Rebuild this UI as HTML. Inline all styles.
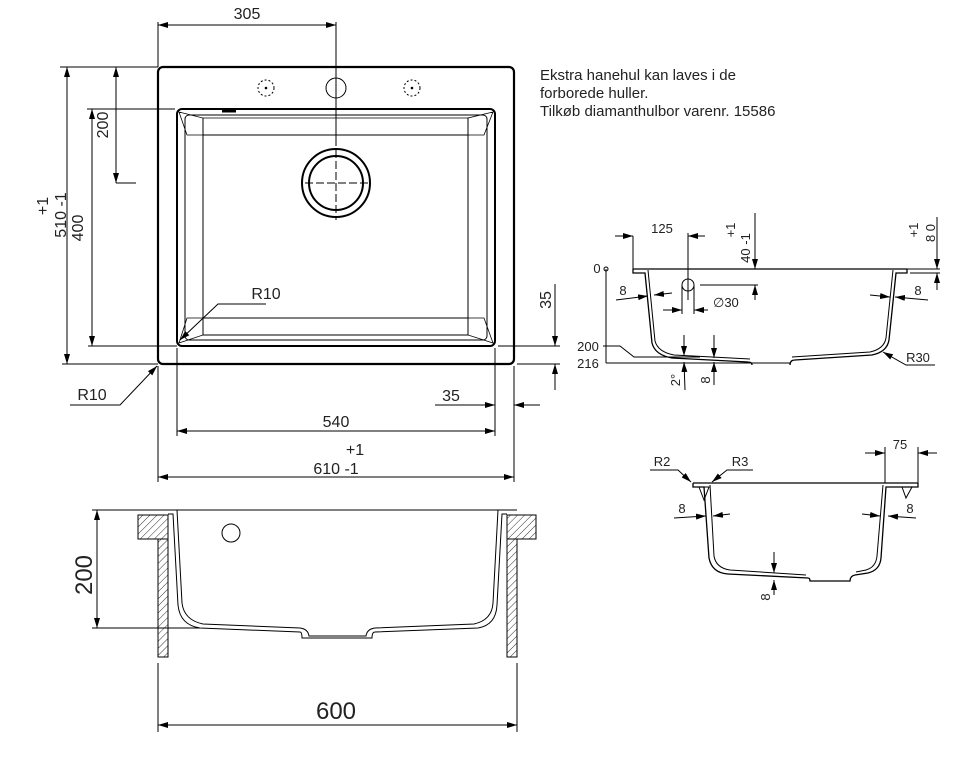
<!DOCTYPE html>
<html><head><meta charset="utf-8"><style>
html,body{margin:0;padding:0;background:#fff;}
svg{display:block;}
text{font-family:"Liberation Sans",sans-serif;fill:#222;}
</style></head><body>
<svg width="970" height="765" viewBox="0 0 970 765" xmlns="http://www.w3.org/2000/svg">
<defs>
<marker id="a" viewBox="0 0 10 6" refX="10" refY="3" markerWidth="10" markerHeight="6" orient="auto-start-reverse" markerUnits="userSpaceOnUse"><path d="M0,0 L10,3 L0,6z" fill="#000"/></marker>
<pattern id="h" width="5" height="5" patternUnits="userSpaceOnUse" patternTransform="rotate(45)"><line x1="0" y1="0" x2="0" y2="5" stroke="#000" stroke-width="0.8"/></pattern>
</defs>
<g fill="none" stroke="#000" stroke-width="1">
<!-- TOP VIEW -->
<rect x="158" y="67" width="356" height="297" rx="5" stroke-width="2.2"/>
<rect x="177" y="109" width="318" height="237" rx="5" stroke-width="2"/>
<rect x="185" y="115" width="302" height="225" rx="4"/>
<line x1="203" y1="118" x2="203" y2="335"/><line x1="468" y1="118" x2="468" y2="335"/>
<line x1="203" y1="135" x2="468" y2="135"/><line x1="203" y1="318" x2="468" y2="318"/>
<line x1="203" y1="335" x2="468" y2="335"/><line x1="203" y1="118" x2="468" y2="118" stroke-width="0.7"/>
<path d="M179,112 L203,118 L203,135 L187,135 Z M493,112 L468,118 L468,135 L484,135 Z M179,343 L203,335 L203,318 L187,318 Z M493,343 L468,335 L468,318 L484,318 Z" stroke-width="0.8"/>
<path d="M222,111 h14" stroke-width="3"/>
<circle cx="266" cy="88" r="8" stroke-dasharray="2 2"/><circle cx="266" cy="88" r="0.8" fill="#000"/>
<circle cx="412" cy="88" r="8" stroke-dasharray="2 2"/><circle cx="412" cy="88" r="0.8" fill="#000"/>
<circle cx="336" cy="88" r="10"/>
<circle cx="336" cy="183" r="34" stroke-width="2"/><circle cx="336" cy="183" r="27" stroke-width="2"/>
<line x1="336" y1="22" x2="336" y2="146"/>
<line x1="336" y1="150" x2="336" y2="220" stroke-dasharray="8 3"/>
<line x1="305" y1="183" x2="368" y2="183" stroke-dasharray="8 3"/>
<line x1="158" y1="22" x2="158" y2="67"/>
<line x1="158" y1="25" x2="336" y2="25" marker-start="url(#a)" marker-end="url(#a)"/>
<line x1="60" y1="67" x2="158" y2="67"/><line x1="62" y1="364" x2="158" y2="364"/>
<line x1="67" y1="67" x2="67" y2="364" marker-start="url(#a)" marker-end="url(#a)"/>
<line x1="87" y1="109" x2="175" y2="109"/><line x1="88" y1="346" x2="177" y2="346"/>
<line x1="92" y1="109" x2="92" y2="346" marker-start="url(#a)" marker-end="url(#a)"/>
<line x1="116" y1="183" x2="136" y2="183"/>
<line x1="116" y1="67" x2="116" y2="183" marker-start="url(#a)" marker-end="url(#a)"/>
<polyline points="266,304 218,304 180,340" marker-end="url(#a)"/>
<polyline points="70,405 120,405 157,366" marker-end="url(#a)"/>
<line x1="498" y1="346" x2="560" y2="346"/><line x1="517" y1="364" x2="560" y2="364"/>
<line x1="555" y1="284" x2="555" y2="346" marker-end="url(#a)"/>
<line x1="555" y1="390" x2="555" y2="364" marker-end="url(#a)"/>
<line x1="495" y1="348" x2="495" y2="436"/><line x1="514" y1="366" x2="514" y2="482"/>
<line x1="435" y1="405" x2="495" y2="405" marker-end="url(#a)"/>
<line x1="540" y1="405" x2="514" y2="405" marker-end="url(#a)"/>
<line x1="177" y1="348" x2="177" y2="436"/>
<line x1="177" y1="431" x2="495" y2="431" marker-start="url(#a)" marker-end="url(#a)"/>
<line x1="158" y1="366" x2="158" y2="482"/>
<line x1="158" y1="477" x2="514" y2="477" marker-start="url(#a)" marker-end="url(#a)"/>

<!-- BOTTOM-LEFT SECTION -->
<line x1="92" y1="510" x2="517" y2="510"/>
<line x1="92" y1="628" x2="200" y2="628"/>
<line x1="97" y1="510" x2="97" y2="628" marker-start="url(#a)" marker-end="url(#a)"/>
<rect x="138" y="515" width="30" height="24" fill="url(#h)"/>
<rect x="158" y="539" width="10" height="118" fill="url(#h)"/>
<rect x="507" y="515" width="29" height="24" fill="url(#h)"/>
<rect x="507" y="539" width="10" height="118" fill="url(#h)"/>
<path d="M168,514 H173 L178,605 Q180,625 200,628 L300,632 Q302,632 302,638 H372 Q372,632 375,632 L478,628 Q496,625 497,605 L502,514 H507"/>
<path d="M177,510 L182,603 Q184,620 203,624 L300,628 Q308,629 309,636 H366 Q367,629 375,628 L474,624 Q492,620 493,603 L498,510"/>
<circle cx="231" cy="533" r="9"/>
<line x1="158" y1="663" x2="158" y2="732"/><line x1="517" y1="663" x2="517" y2="732"/>
<line x1="158" y1="725" x2="517" y2="725" marker-start="url(#a)" marker-end="url(#a)"/>

<!-- RIGHT SECTION 1 -->
<line x1="633" y1="269" x2="907" y2="269" stroke-width="1.3"/>
<path d="M633,269 V273 H645 L652,343 Q655,355 672,358 L748,362 Q752,362 752,365 M790,365 Q790,360 795,360 L872,355 Q887,352 889,340 L896,273 H907 V269" stroke-width="1.3"/>
<path d="M648,270 L655,341 Q658,352 674,355 L750,359 M792,357 L870,352 Q884,349 886,338 L893,270"/>
<line x1="606" y1="269" x2="606" y2="363"/><circle cx="606" cy="269" r="2"/>
<line x1="606" y1="363" x2="790" y2="363"/>
<polyline points="603,346 620,346 634,357 700,357"/>
<line x1="615" y1="236" x2="633" y2="236" marker-end="url(#a)"/>
<line x1="705" y1="236" x2="688" y2="236" marker-end="url(#a)"/>
<line x1="633" y1="236" x2="633" y2="269"/><line x1="688" y1="233" x2="688" y2="300"/>
<circle cx="688" cy="285" r="6"/><line x1="682" y1="285" x2="682" y2="314"/><line x1="694" y1="285" x2="694" y2="314"/>
<line x1="663" y1="310" x2="682" y2="310" marker-end="url(#a)"/>
<line x1="708" y1="310" x2="694" y2="310" marker-end="url(#a)"/>
<line x1="700" y1="285" x2="758" y2="285"/>
<line x1="755" y1="213" x2="755" y2="269" marker-end="url(#a)"/>
<line x1="755" y1="300" x2="755" y2="285" marker-end="url(#a)"/>
<line x1="907" y1="269" x2="940" y2="269"/><line x1="910" y1="273" x2="940" y2="273"/>
<line x1="937" y1="217" x2="937" y2="269" marker-end="url(#a)"/>
<line x1="937" y1="290" x2="937" y2="273" marker-end="url(#a)"/>
<line x1="616" y1="300" x2="648" y2="296" marker-end="url(#a)"/>
<line x1="672" y1="293" x2="654" y2="295" marker-end="url(#a)"/>
<line x1="870" y1="295" x2="890" y2="297" marker-end="url(#a)"/>
<line x1="928" y1="300" x2="895" y2="297" marker-end="url(#a)"/>
<polyline points="935,365 906,365 883,352" marker-end="url(#a)"/>
<line x1="684" y1="335" x2="684" y2="356" marker-end="url(#a)"/>
<line x1="685" y1="390" x2="684" y2="362" marker-end="url(#a)"/>
<line x1="714" y1="335" x2="714" y2="358" marker-end="url(#a)"/>
<line x1="714" y1="385" x2="714" y2="362" marker-end="url(#a)"/>

<!-- RIGHT SECTION 2 -->
<line x1="693" y1="483" x2="918" y2="483" stroke-width="1.3"/>
<path d="M693,483 V487 H704 L709,558 Q712,573 728,574 L808,578 Q810,578 810,581 H850 Q850,576 855,575 L868,573 Q880,570 881,558 L886,487 H918 V483" stroke-width="1.3"/>
<path d="M710,485 L714,556 Q716,568 730,570 L806,575 M856,572 L866,570 Q876,567 877,556 L883,485"/>
<path d="M699,487 L704,500 L709,487 Z M902,487 L906,498 L912,487 Z"/>
<polyline points="650,470 678,470 691,482" marker-end="url(#a)"/>
<polyline points="753,470 727,470 712,482" marker-end="url(#a)"/>
<line x1="885" y1="447" x2="885" y2="483"/><line x1="918" y1="447" x2="918" y2="483"/>
<line x1="865" y1="453" x2="885" y2="453" marker-end="url(#a)"/>
<line x1="937" y1="453" x2="918" y2="453" marker-end="url(#a)"/>
<line x1="674" y1="518" x2="706" y2="516" marker-end="url(#a)"/>
<line x1="730" y1="514" x2="713" y2="516" marker-end="url(#a)"/>
<line x1="862" y1="514" x2="880" y2="516" marker-end="url(#a)"/>
<line x1="916" y1="518" x2="888" y2="516" marker-end="url(#a)"/>
<line x1="774" y1="552" x2="774" y2="573" marker-end="url(#a)"/>
<line x1="774" y1="595" x2="774" y2="580" marker-end="url(#a)"/>
</g>

<g font-size="16">
<text x="247" y="19" text-anchor="middle">305</text>
<text x="266" y="299" text-anchor="middle">R10</text>
<text x="92" y="400" text-anchor="middle">R10</text>
<text x="451" y="401" text-anchor="middle">35</text>
<text x="336" y="427" text-anchor="middle">540</text>
<text x="355" y="455" text-anchor="middle">+1</text>
<text x="336" y="474" text-anchor="middle">610 -1</text>
<text transform="translate(108,125) rotate(-90)" text-anchor="middle">200</text>
<text transform="translate(83,228) rotate(-90)" text-anchor="middle">400</text>
<text transform="translate(48,206) rotate(-90)" text-anchor="middle">+1</text>
<text transform="translate(66,215) rotate(-90)" text-anchor="middle">510 -1</text>
<text transform="translate(551,300) rotate(-90)" text-anchor="middle">35</text>
</g>
<g font-size="15">
<text x="540" y="80">Ekstra hanehul kan laves i de</text>
<text x="540" y="98">forborede huller.</text>
<text x="540" y="116">Tilkøb diamanthulbor varenr. 15586</text>
</g>
<g font-size="24">
<text x="336" y="719" text-anchor="middle">600</text>
<text transform="translate(92,575) rotate(-90)" text-anchor="middle">200</text>
</g>
<g font-size="13">
<text x="597" y="273" text-anchor="middle">0</text>
<text x="588" y="351" text-anchor="middle">200</text>
<text x="588" y="368" text-anchor="middle">216</text>
<text x="662" y="233" text-anchor="middle">125</text>
<text x="713" y="307">∅30</text>
<text x="623" y="295" text-anchor="middle">8</text>
<text x="918" y="295" text-anchor="middle">8</text>
<text x="918" y="362" text-anchor="middle">R30</text>
<text transform="translate(750,248) rotate(-90)" text-anchor="middle">40 -1</text>
<text transform="translate(735,230) rotate(-90)" text-anchor="middle">+1</text>
<text transform="translate(935,233) rotate(-90)" text-anchor="middle">8 0</text>
<text transform="translate(918,230) rotate(-90)" text-anchor="middle">+1</text>
<text transform="translate(680,380) rotate(-90)" text-anchor="middle">2°</text>
<text transform="translate(710,380) rotate(-90)" text-anchor="middle">8</text>
<text x="662" y="466" text-anchor="middle">R2</text>
<text x="740" y="466" text-anchor="middle">R3</text>
<text x="900" y="449" text-anchor="middle">75</text>
<text x="682" y="513" text-anchor="middle">8</text>
<text x="910" y="513" text-anchor="middle">8</text>
<text transform="translate(770,597) rotate(-90)" text-anchor="middle">8</text>
</g>
</svg>
</body></html>
